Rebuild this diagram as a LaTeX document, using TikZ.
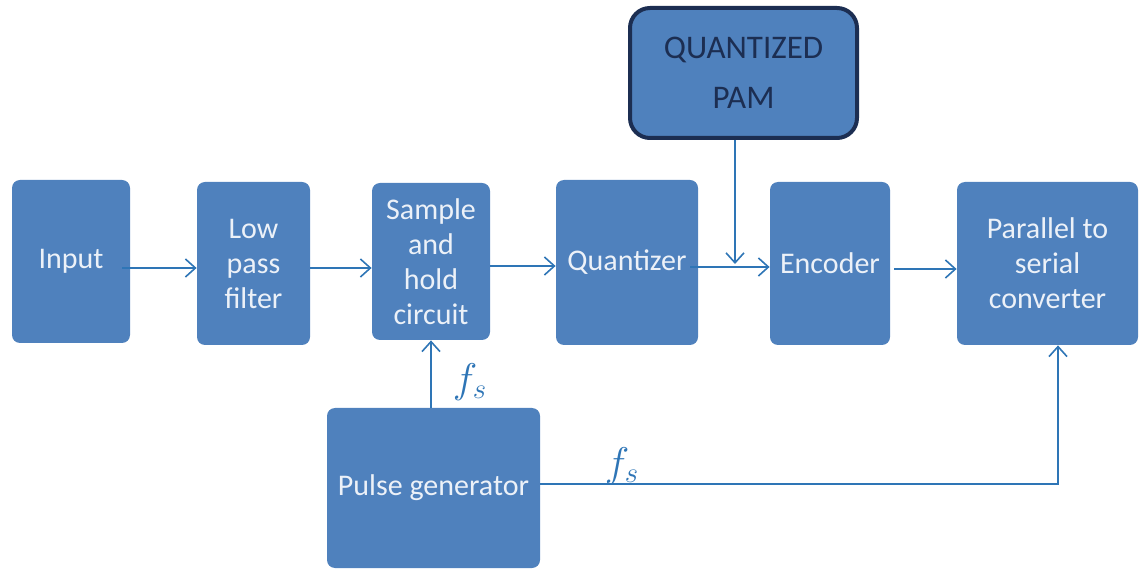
\documentclass[tikz,border=0pt]{standalone}
\usepackage{fontspec}
\setmainfont{Carlito}
\usetikzlibrary{arrows.meta}
\definecolor{boxblue}{RGB}{79,129,189}
\definecolor{linkblue}{RGB}{46,117,182}
\definecolor{navy}{RGB}{28,46,82}
\definecolor{boxtext}{RGB}{236,241,248}
\tikzset{
  block/.style={fill=boxblue, rounded corners=4pt, text=boxtext, align=center,
    font=\fontsize{15}{17.5}\selectfont, inner sep=0pt},
  flow/.style={draw=linkblue, line width=0.8pt, -{Straight Barb[length=5pt,width=9pt]}},
  rate/.style={text=linkblue, font=\fontsize{22}{24}\selectfont},
}

\begin{document}
\begin{tikzpicture}[x=0.5pt,y=-0.5pt]
        \useasboundingbox (0,0) rectangle (1140,571);
        \node (input) [block, minimum width=59pt, minimum height=81.5pt] at (71,261.5) {Input};
        \node (lpf) [block, minimum width=56.5pt, minimum height=81.5pt] at (253.5,263.5) {Low\\pass\\filter};
        \node (sh) [block, minimum width=59pt, minimum height=78.5pt] at (431,261.5) {Sample\\and\\hold\\circuit};
        \node (quant) [block, minimum width=71pt, minimum height=82.5pt] at (627,262.5) {Quantizer};
        \node (enc) [block, minimum width=60pt, minimum height=81.5pt] at (830,263.5) {Encoder};
        \node (ps) [block, minimum width=90.5pt, minimum height=81.5pt] at (1047.5,263.5) {Parallel to\\serial\\converter};
        \node (pam) [block, draw=navy, line width=2pt, rounded corners=10pt, text=navy,
                font=\fontsize{16.5}{25}\selectfont, minimum width=113.5pt, minimum height=65pt] at (743.5,73) {QUANTIZED\\PAM};
        \node (pulse) [block, minimum width=106.5pt, minimum height=80pt] at (433.5,488) {Pulse generator};
        \node (fs1) [rate] at (470,382) {$f_s$};
        \node (fs2) [rate] at (622,466) {$f_s$};
        \coordinate (merge) at (735,264);
        \coordinate (tap) at (1058,484);
        % signal path
        \draw [flow] ([xshift=-4pt]input.east |- 0,268) -- (lpf.west |- 0,268);
        \draw [flow] (lpf.east |- 0,268) -- (sh.west |- 0,268);
        \draw [flow] (sh.east |- 0,266) -- (quant.west |- 0,266);
        \draw [flow] ([xshift=-4pt]quant.east |- 0,267) -- (enc.west |- 0,267);
        \draw [flow] (pam.south -| merge) -- (merge);
        \draw [flow] ([xshift=2pt]enc.east |- 0,269) -- (ps.west |- 0,269);
        % sampling clock
        \draw [flow] (pulse.north -| sh.south) -- (sh.south);
        \draw [flow] (pulse.east |- tap) -- (tap) -- (ps.south -| tap);
\end{tikzpicture}
\end{document}
